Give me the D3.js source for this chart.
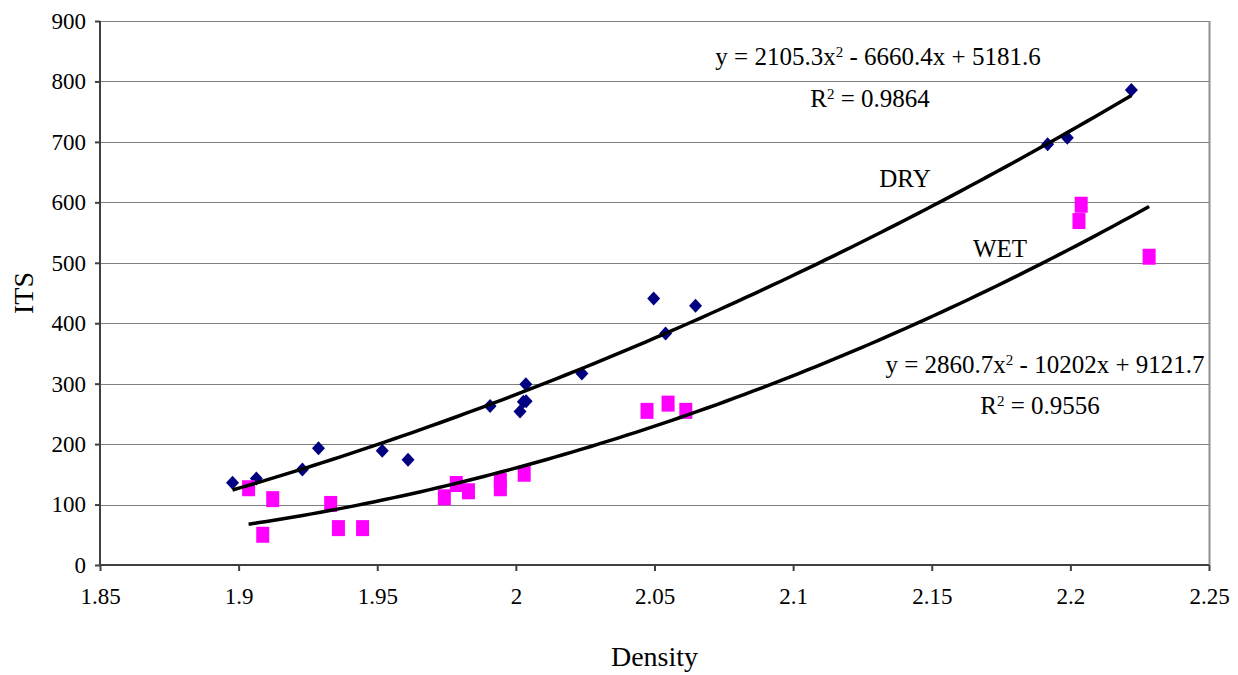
<!DOCTYPE html>
<html>
<head>
<meta charset="utf-8">
<script src="https://cdn.jsdelivr.net/npm/d3@7"></script>
<style>
    body { margin: 0; background: #fff; }
    svg { display: block; }
    svg text { font-family: "Liberation Serif", "Times New Roman", serif !important; fill: #000; }
    .grid line { stroke: #808080; stroke-width: 1; }
    .axis path, .axis line { stroke: #404040; stroke-width: 2; }
    .trend { fill: none; stroke: #000; stroke-width: 3.5; stroke-linejoin: round; }
</style>
</head>
<body>
<div id="chart"></div>
<script>
var xTicks = [1.85, 1.9, 1.95, 2, 2.05, 2.1, 2.15, 2.2, 2.25];
var yTicks = [0, 100, 200, 300, 400, 500, 600, 700, 800, 900];

var dryDensity = [1.8978, 1.9064, 1.923, 1.9288, 1.9518, 1.9611, 1.9907, 2.0015, 2.0027, 2.0037,
    2.0036, 2.0238, 2.0497, 2.054, 2.0648, 2.1918, 2.1989, 2.222];
var dryITS = [136, 143, 158, 193, 189, 174, 263, 254, 270, 271,
    299, 317, 441, 383, 429, 696, 707, 786];

var wetDensity = [1.9036, 1.9087, 1.9123, 1.9332, 1.936, 1.9447, 1.9742, 1.9785, 1.9829, 1.9944,
    1.9944, 2.003, 2.0473, 2.0549, 2.0613, 2.2031, 2.2039, 2.2284];
var wetITS = [127, 50, 109, 101, 61, 61, 112, 134, 122, 139,
    127, 151, 255, 267, 255, 569, 596, 510];

// trendline coefficients as printed on the chart: a*x^2 + b*x + c
var dryFit = [2105.3, -6660.4, 5181.6];
var wetFit = [2860.7, -10202, 9121.7];

var width = 1238, height = 675;
var margin = {top: 21, right: 29, bottom: 110, left: 100};
var chartWidth = width - margin.left - margin.right;
var chartHeight = height - margin.top - margin.bottom;

var svg = d3.select('#chart').append('svg')
    .attr('width', width)
    .attr('height', height);

var panel = svg.append('g')
    .attr('transform', 'translate(' + margin.left + ',' + margin.top + ')');

var scaleX = d3.scaleLinear().domain([1.85, 2.25]).range([0, chartWidth]);
var scaleY = d3.scaleLinear().domain([0, 900]).range([chartHeight, 0]);

// horizontal gridlines
panel.append('g').attr('class', 'grid')
    .selectAll('line')
    .data(yTicks.filter(function(d){ return d > 0; }))
    .enter().append('line')
    .attr('x1', 0)
    .attr('x2', chartWidth)
    .attr('y1', function(d){ return Math.round(scaleY(d)) + 0.5; })
    .attr('y2', function(d){ return Math.round(scaleY(d)) + 0.5; });

// right border
panel.append('line')
    .attr('x1', chartWidth + 0.5).attr('x2', chartWidth + 0.5)
    .attr('y1', 0).attr('y2', chartHeight)
    .style('stroke', '#909090').style('stroke-width', 2);

var yAxis = panel.append('g').attr('class', 'axis')
    .call(d3.axisLeft(scaleY).tickValues(yTicks).tickSize(5).tickPadding(9));
yAxis.attr('font-family', null);
yAxis.selectAll('text').style('font-size', '23px');

var xAxis = panel.append('g').attr('class', 'axis')
    .attr('transform', 'translate(0,' + chartHeight + ')')
    .call(d3.axisBottom(scaleX).tickValues(xTicks).tickSize(6).tickPadding(17)
        .tickFormat(function(d){ return String(d); }));
xAxis.attr('font-family', null);
xAxis.selectAll('text').style('font-size', '23px');
xAxis.select('.domain').attr('d', 'M0,0H' + chartWidth);
yAxis.select('.domain').attr('d', 'M0,0V' + chartHeight);

// markers
var dryData = dryDensity.map(function(d, i){ return [d, dryITS[i]]; });
var wetData = wetDensity.map(function(d, i){ return [d, wetITS[i]]; });

panel.append('g').selectAll('path')
    .data(dryData)
    .enter().append('path')
    .attr('d', 'M0,-7L6.5,0L0,7L-6.5,0Z')
    .attr('transform', function(d){ return 'translate(' + scaleX(d[0]) + ',' + scaleY(d[1]) + ')'; })
    .style('fill', '#000080');

panel.append('g').selectAll('rect')
    .data(wetData)
    .enter().append('rect')
    .attr('x', function(d){ return scaleX(d[0]) - 6.5; })
    .attr('y', function(d){ return scaleY(d[1]) - 8; })
    .attr('width', 13)
    .attr('height', 16)
    .style('fill', '#ff00ff');

// polynomial trendlines
var trendPoints = function(fit, xs){
    var lo = d3.min(xs), hi = d3.max(xs);
    return d3.range(0, 101).map(function(i){
        var x = lo + (hi - lo) * i / 100;
        return [x, fit[0] * x * x + fit[1] * x + fit[2]];
    });
};
var line = d3.line()
    .x(function(d){ return scaleX(d[0]); })
    .y(function(d){ return scaleY(d[1]); });

panel.append('path').attr('class', 'trend').attr('d', line(trendPoints(dryFit, dryDensity)));
panel.append('path').attr('class', 'trend').attr('d', line(trendPoints(wetFit, wetDensity)));

// labels
var label = function(x, y, size, parts){
    var t = svg.append('text')
        .attr('x', x).attr('y', y)
        .attr('text-anchor', 'middle')
        .style('font-size', size + 'px');
    parts.forEach(function(p){
        var span = t.append('tspan').text(p.text);
        if(p.sup){ span.attr('baseline-shift', 'super').style('font-size', (size * 0.6) + 'px'); }
    });
    return t;
};

label(878, 65, 25, [{text: 'y = 2105.3x'}, {text: '2', sup: true}, {text: ' - 6660.4x + 5181.6'}]);
label(870, 107, 25, [{text: 'R'}, {text: '2', sup: true}, {text: ' = 0.9864'}]);
label(905, 187, 25, [{text: 'DRY'}]);
label(1000, 257, 25, [{text: 'WET'}]);
label(1045, 373, 25, [{text: 'y = 2860.7x'}, {text: '2', sup: true}, {text: ' - 10202x + 9121.7'}]);
label(1040, 414, 25, [{text: 'R'}, {text: '2', sup: true}, {text: ' = 0.9556'}]);

svg.append('text')
    .attr('transform', 'translate(33,' + (margin.top + chartHeight / 2) + ') rotate(-90)')
    .attr('text-anchor', 'middle')
    .style('font-size', '28px')
    .text('ITS');

svg.append('text')
    .attr('x', margin.left + chartWidth / 2)
    .attr('y', 666)
    .attr('text-anchor', 'middle')
    .style('font-size', '28px')
    .text('Density');
</script>
</body>
</html>
